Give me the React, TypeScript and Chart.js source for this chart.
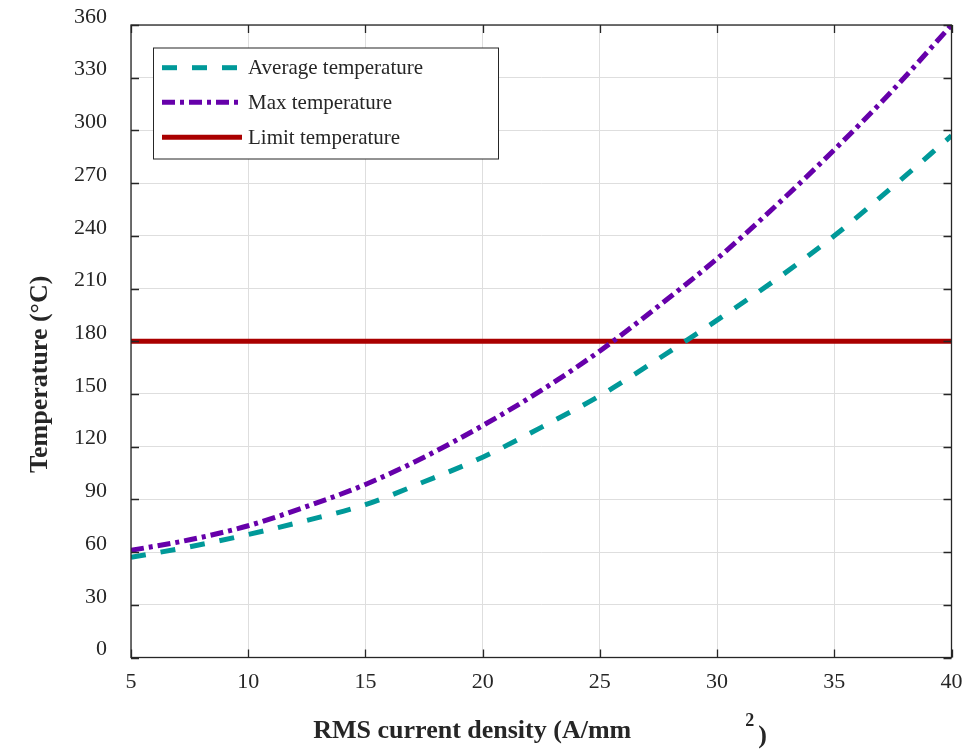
import React, { useEffect, useRef } from "react";
import { Chart, registerables } from "chart.js";

Chart.register(...registerables);

// ---- Data ----
const currentDensity = [5, 7.5, 10, 12.5, 15, 17.5, 20, 22.5, 25, 27.5, 30, 32.5, 35, 37.5, 40];
const averageTemperature = [57, 63, 70, 78, 87, 100, 114, 131, 149, 170, 192, 215, 240, 268, 297];
const maxTemperature = [61, 67, 75, 86, 98.5, 114, 132, 152, 174.5, 200, 227, 257, 289, 323, 360];
const limitTemperature = [180, 180, 180, 180, 180, 180, 180, 180, 180, 180, 180, 180, 180, 180, 180];

const seriesLabels = ["Average temperature", "Max temperature", "Limit temperature"];
const xTitleMain = "RMS current density (A/mm";
const xTitleSup = "2";
const xTitleEnd = ")";
const yTitle = "Temperature (°C)";

const xMin = 5;
const xMax = 40;
const xStep = 5;
const yMin = 0;
const yMax = 360;
const yStep = 30;

const COLORS = ["#009999", "#6600aa", "#aa0000"];
const DASHES: number[][] = [[15, 15], [13, 5, 4, 5], []];
const AXIS_COLOR = "#262626";
const SERIF = "'Liberation Serif', 'Times New Roman', serif";

const toPoints = (ys: number[]) => currentDensity.map((x, i) => ({ x, y: ys[i] }));

const framePlugin = {
  id: "matlabFrame",
  afterDatasetsDraw(chart: any) {
    const { ctx, chartArea } = chart;
    const { left, right, top, bottom } = chartArea;
    const xs = chart.scales.x;
    const ys = chart.scales.y;
    ctx.save();
    // box
    ctx.strokeStyle = AXIS_COLOR;
    ctx.lineWidth = 1.3;
    ctx.setLineDash([]);
    ctx.strokeRect(left, top, right - left, bottom - top);
    // inward ticks
    const tl = 8;
    ctx.beginPath();
    xs.ticks.forEach((t: any) => {
      const px = Math.round(xs.getPixelForValue(t.value)) + 0.5;
      ctx.moveTo(px, bottom);
      ctx.lineTo(px, bottom - tl);
      ctx.moveTo(px, top);
      ctx.lineTo(px, top + tl);
    });
    ys.ticks.forEach((t: any) => {
      const py = Math.round(ys.getPixelForValue(t.value)) + 0.5;
      ctx.moveTo(left, py);
      ctx.lineTo(left + tl, py);
      ctx.moveTo(right, py);
      ctx.lineTo(right - tl, py);
    });
    ctx.stroke();

    // legend
    const bx = 153.5, by = 48, bw = 345, bh = 111;
    ctx.fillStyle = "#ffffff";
    ctx.fillRect(bx, by, bw, bh);
    ctx.strokeStyle = AXIS_COLOR;
    ctx.lineWidth = 1;
    ctx.strokeRect(bx, by, bw, bh);
    const rowsY = [67.7, 102.3, 137.3];
    chart.data.datasets.forEach((ds: any, i: number) => {
      const y = rowsY[i];
      ctx.beginPath();
      ctx.strokeStyle = ds.borderColor;
      ctx.lineWidth = ds.borderWidth;
      ctx.lineCap = "butt";
      ctx.setLineDash(ds.borderDash || []);
      ctx.moveTo(162, y);
      ctx.lineTo(242, y);
      ctx.stroke();
      ctx.setLineDash([]);
      ctx.fillStyle = AXIS_COLOR;
      ctx.font = `21px ${SERIF}`;
      ctx.textAlign = "left";
      ctx.textBaseline = "middle";
      ctx.fillText(ds.label, 248, y + 1);
    });

    // axis titles
    const cx = (left + right) / 2;
    ctx.fillStyle = AXIS_COLOR;
    ctx.textBaseline = "alphabetic";
    ctx.textAlign = "left";
    ctx.font = `bold 26px ${SERIF}`;
    ctx.fillText(xTitleMain, cx - 228, 738);
    ctx.font = `bold 18px ${SERIF}`;
    ctx.fillText(xTitleSup, cx + 204, 726);
    ctx.font = `bold 26px ${SERIF}`;
    ctx.fillText(xTitleEnd, cx + 217, 743);

    const cy = (top + bottom) / 2;
    ctx.translate(47, cy + 33);
    ctx.rotate(-Math.PI / 2);
    ctx.textAlign = "center";
    ctx.font = `bold 26px ${SERIF}`;
    ctx.fillText(yTitle, 0, 0);
    ctx.restore();
  },
};

export default function App() {
  const canvasRef = useRef<HTMLCanvasElement | null>(null);

  useEffect(() => {
    document.body.style.margin = "0";
    const canvas = canvasRef.current;
    if (!canvas) return;
    const series = [averageTemperature, maxTemperature, limitTemperature];
    const chart = new Chart(canvas, {
      type: "line",
      data: {
        datasets: series.map((s, i) => ({
          label: seriesLabels[i],
          data: toPoints(s),
          borderColor: COLORS[i],
          backgroundColor: COLORS[i],
          borderWidth: 5,
          borderDash: DASHES[i],
          borderCapStyle: "butt" as const,
          pointRadius: 0,
          cubicInterpolationMode: "monotone" as const,
          fill: false,
        })),
      },
      options: {
        animation: false,
        responsive: true,
        maintainAspectRatio: false,
        layout: { padding: { top: 25, right: 28.5, left: 0, bottom: 0 } },
        plugins: {
          legend: { display: false },
          tooltip: { enabled: false },
          title: { display: false },
        },
        scales: {
          x: {
            type: "linear",
            min: xMin,
            max: xMax,
            afterFit: (scale: any) => {
              scale.height = 92.5;
              scale.paddingLeft = 0;
              scale.paddingRight = 0;
            },
            grid: { color: "#dedede", lineWidth: 1, drawTicks: false },
            border: { display: false },
            ticks: {
              stepSize: xStep,
              padding: 12,
              color: AXIS_COLOR,
              font: { family: SERIF, size: 22 },
              maxRotation: 0,
            },
          },
          y: {
            type: "linear",
            min: yMin,
            max: yMax,
            afterFit: (scale: any) => {
              scale.width = 131;
              scale.paddingTop = 0;
              scale.paddingBottom = 0;
            },
            grid: { color: "#dedede", lineWidth: 1, drawTicks: false },
            border: { display: false },
            ticks: {
              stepSize: yStep,
              padding: 24,
              labelOffset: -8,
              color: AXIS_COLOR,
              font: { family: SERIF, size: 22 },
            },
          },
        },
      },
      plugins: [framePlugin],
    });
    return () => chart.destroy();
  }, []);

  return (
    <div style={{ position: "relative", width: 980, height: 750 }}>
      <canvas ref={canvasRef} />
    </div>
  );
}
